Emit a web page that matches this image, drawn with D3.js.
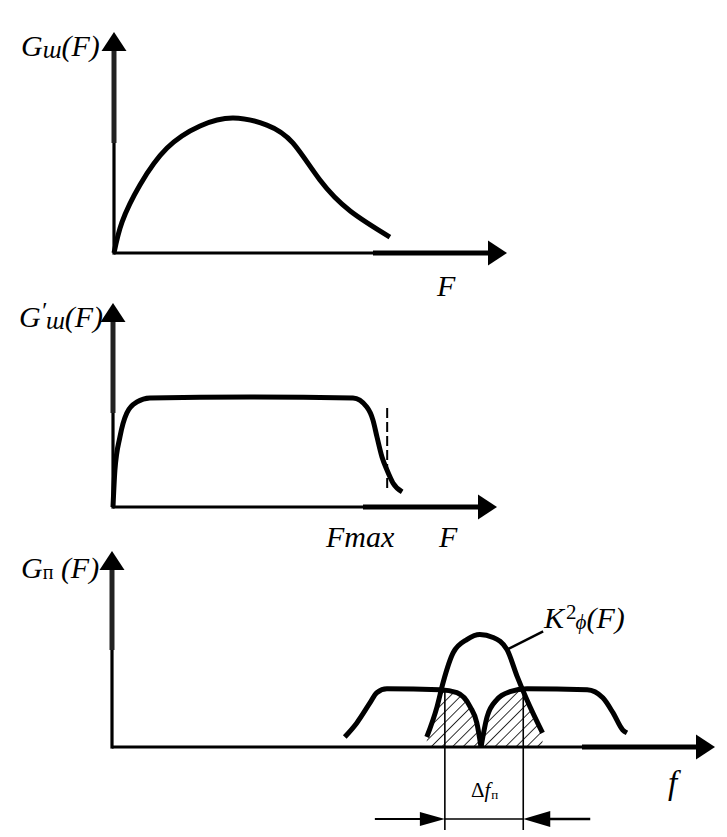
<!DOCTYPE html>
<html>
<head>
<meta charset="utf-8">
<script src="https://cdn.jsdelivr.net/npm/d3@7"></script>
<style>
  html, body { margin: 0; padding: 0; background: #fff; }
  svg { display: block; }
</style>
</head>
<body>
<svg id="chart" width="727" height="837"></svg>
<script>
// ---------------- DATA ----------------
// Panel 1: input spectrum G_ш(F)
const inputF = [0, 2.04, 6.6, 13.5, 21.9, 30.3, 38.9, 45.5, 52.4, 60.1, 70.2];
const inputG = [0, 14.0, 30.8, 47.5, 57.5, 61.1, 57.9, 49.8, 33.0, 19.0, 7.2];

// Panel 2: limited spectrum G'_ш(F)
const limitedF = [0, 0.5, 1.8, 3.6, 6.25, 9.6, 35.7, 62.5, 66.1, 67.7, 68.75, 70.05, 71.35, 72.9, 75.3];
const limitedG = [0, 18.1, 34.3, 46.1, 51.5, 53.4, 53.9, 53.4, 49, 42.6, 34.3, 24.5, 18.1, 11.8, 7.4];
const fmaxValue = 71.4;
const fmaxDashLevels = [8.3, 48.5];

// Panel 3: neighbouring channel spectra G_п(F) and filter K²ϕ(F)
const leftBandF  = [38.6, 40.6, 42.8, 43.9, 45.6, 54.4, 57.2, 59.4, 60.5, 61.2];
const leftBandG  = [5.1, 12.3, 22.6, 27.7, 29.7, 29.2, 27.7, 20.5, 12.3, 0];
const rightBandF = [61.2, 62.2, 63.8, 66.0, 68.8, 78.8, 81.4, 83.1, 84.7, 85.4];
const rightBandG = [0, 15.4, 24.1, 28.2, 29.7, 29.2, 25.1, 17.4, 8.7, 7.2];
const filterF  = [52.2, 53.9, 54.9, 56.6, 58.9, 61.0, 63.2, 65.5, 67.2, 68.8, 71.4];
const filterK2 = [5.1, 20.5, 32.8, 48.2, 54.9, 57.4, 55.9, 49.7, 35.9, 24.1, 7.2];
const passbandEdges = [55.2, 68.2];
const leaderFrom = [65.5, 49.7];
const leaderTo = [71.5, 59];

// ---------------- DRAWING ----------------
const FONT = "'Liberation Serif', 'Times New Roman', 'DejaVu Serif', serif";
const svg = d3.select("#chart");
svg.append("rect").attr("width", 727).attr("height", 837).attr("fill", "#fff");

const zip = (xs, ys) => xs.map((x, i) => [x, ys[i]]);

const panels = [
  { x: d3.scaleLinear().domain([0, 100]).range([114, 507]),
    y: d3.scaleLinear().domain([0, 100]).range([253, 32]),
    thickX: 373, thickY: 143 },
  { x: d3.scaleLinear().domain([0, 100]).range([113, 497]),
    y: d3.scaleLinear().domain([0, 100]).range([507, 303]),
    thickX: 363, thickY: 413 },
  { x: d3.scaleLinear().domain([0, 100]).range([112, 715]),
    y: d3.scaleLinear().domain([0, 100]).range([747, 551]),
    thickX: 582, thickY: 650 }
];

function drawAxes(p) {
  const g = svg.append("g");
  const x0 = p.x(0), y0 = p.y(0), xTip = p.x(100), yTip = p.y(100);
  const headLen = 19, headHalf = 12.5;
  g.append("line").attr("x1", x0).attr("x2", p.thickX).attr("y1", y0).attr("y2", y0)
    .attr("stroke", "#000").attr("stroke-width", 3.2);
  g.append("line").attr("x1", p.thickX).attr("x2", xTip - headLen + 2).attr("y1", y0).attr("y2", y0)
    .attr("stroke", "#000").attr("stroke-width", 5);
  g.append("path")
    .attr("d", `M${xTip},${y0} L${xTip - headLen},${y0 - headHalf} L${xTip - headLen},${y0 + headHalf} Z`)
    .attr("fill", "#000");
  g.append("line").attr("x1", x0).attr("x2", x0).attr("y1", y0 + 1.6).attr("y2", p.thickY)
    .attr("stroke", "#000").attr("stroke-width", 3.2);
  g.append("line").attr("x1", x0).attr("x2", x0).attr("y1", p.thickY).attr("y2", yTip + headLen - 2)
    .attr("stroke", "#222").attr("stroke-width", 5);
  g.append("path")
    .attr("d", `M${x0},${yTip} L${x0 - headHalf},${yTip + headLen} L${x0 + headHalf},${yTip + headLen} Z`)
    .attr("fill", "#000");
}
panels.forEach(drawAxes);

const curve = d3.curveMonotoneX;
function lineFor(p, c) {
  return d3.line().x(d => p.x(d[0])).y(d => p.y(d[1])).curve(c || curve);
}

// Panel 1 curve
const P1 = panels[0];
svg.append("path").attr("d", lineFor(P1, d3.curveNatural)(zip(inputF, inputG)))
  .attr("fill", "none").attr("stroke", "#000").attr("stroke-width", 5)
  .attr("stroke-linejoin", "round");

// Panel 2 curve
const P2 = panels[1];
svg.append("path").attr("d", lineFor(P2)(zip(limitedF, limitedG)))
  .attr("fill", "none").attr("stroke", "#000").attr("stroke-width", 5)
  .attr("stroke-linejoin", "round");
svg.append("line")
  .attr("x1", P2.x(fmaxValue)).attr("x2", P2.x(fmaxValue))
  .attr("y1", P2.y(fmaxDashLevels[1])).attr("y2", P2.y(fmaxDashLevels[0]))
  .attr("stroke", "#000").attr("stroke-width", 2).attr("stroke-dasharray", "10,4");

// Panel 3
const P3 = panels[2];
const defs = svg.append("defs");
const pat = defs.append("pattern").attr("id", "hatch").attr("patternUnits", "userSpaceOnUse")
  .attr("width", 7.5).attr("height", 7.5).attr("patternTransform", "rotate(45)");
pat.append("line").attr("x1", 0).attr("x2", 0).attr("y1", 0).attr("y2", 7.5)
  .attr("stroke", "#000").attr("stroke-width", 1.6);

const areaFor = p => d3.area().x(d => p.x(d[0])).y0(p.y(0)).y1(d => p.y(d[1])).curve(curve);
defs.append("clipPath").attr("id", "clipFilter")
  .append("path").attr("d", areaFor(P3)(zip(filterF, filterK2)));
const cb = defs.append("clipPath").attr("id", "clipBands");
cb.append("path").attr("d", areaFor(P3)(zip(leftBandF, leftBandG)));
cb.append("path").attr("d", areaFor(P3)(zip(rightBandF, rightBandG)));

svg.append("g").attr("clip-path", "url(#clipBands)")
  .append("rect")
  .attr("x", P3.x(45)).attr("y", P3.y(70)).attr("width", P3.x(80) - P3.x(45)).attr("height", P3.y(0) - P3.y(70))
  .attr("fill", "url(#hatch)").attr("clip-path", "url(#clipFilter)");

[zip(leftBandF, leftBandG), zip(rightBandF, rightBandG), zip(filterF, filterK2)].forEach(pts => {
  svg.append("path").attr("d", lineFor(P3)(pts))
    .attr("fill", "none").attr("stroke", "#000").attr("stroke-width", 5)
    .attr("stroke-linejoin", "round");
});

svg.append("line")
  .attr("x1", P3.x(leaderFrom[0])).attr("y1", P3.y(leaderFrom[1]))
  .attr("x2", P3.x(leaderTo[0])).attr("y2", P3.y(leaderTo[1]))
  .attr("stroke", "#000").attr("stroke-width", 2.5);

// passband dimension
const dimTop = P3.y(29.2), dimBottom = 830, dimY = 819;
passbandEdges.forEach(e => {
  svg.append("line").attr("x1", P3.x(e)).attr("x2", P3.x(e)).attr("y1", dimTop).attr("y2", dimBottom)
    .attr("stroke", "#000").attr("stroke-width", 1.6);
});
const eL = P3.x(passbandEdges[0]), eR = P3.x(passbandEdges[1]);
svg.append("line").attr("x1", eL).attr("x2", eR).attr("y1", dimY).attr("y2", dimY)
  .attr("stroke", "#000").attr("stroke-width", 1.3);
svg.append("line").attr("x1", eL - 70).attr("x2", eL - 20).attr("y1", dimY).attr("y2", dimY)
  .attr("stroke", "#000").attr("stroke-width", 2);
svg.append("path").attr("d", `M${eL},${dimY} L${eL - 25},${dimY - 7} L${eL - 25},${dimY + 7} Z`).attr("fill", "#000");
svg.append("line").attr("x1", eR + 20).attr("x2", eR + 67).attr("y1", dimY).attr("y2", dimY)
  .attr("stroke", "#000").attr("stroke-width", 2.5);
svg.append("path").attr("d", `M${eR},${dimY} L${eR + 27},${dimY - 8} L${eR + 27},${dimY + 8} Z`).attr("fill", "#000");

// ---------------- TEXT ----------------
function label(x, y, parts) {
  const t = svg.append("text").attr("x", x).attr("y", y)
    .attr("font-family", FONT).attr("fill", "#000");
  parts.forEach(pt => {
    const s = t.append("tspan").text(pt.t)
      .attr("font-family", FONT)
      .attr("font-size", pt.size || 30)
      .attr("font-style", pt.italic === false ? "normal" : "italic");
    if (pt.dy) s.attr("dy", pt.dy);
    if (pt.dx) s.attr("dx", pt.dx);
  });
  return t;
}
label(21, 56, [{t: "G"}, {t: "ш", size: 25, dy: 2}, {t: "(F)", dy: -2}]);
label(19, 327, [{t: "G"}, {t: "′", size: 24, dy: -9}, {t: "ш", size: 25, dy: 11}, {t: "(F)", dy: -2}]);
label(21, 578, [{t: "G"}, {t: "п", size: 20, italic: false, dy: 1}, {t: " (F)", dy: -1}]);

label(437, 296, [{t: "F"}]);
label(326, 547, [{t: "Fmax"}]);
label(439, 547, [{t: "F"}]);
label(544, 628, [{t: "K"}, {t: "2", size: 21, italic: false, dy: -9, dx: 2}, {t: "ϕ", size: 21, dy: 10, dx: -1}, {t: "(F)", dy: -1}]);
label(471, 797, [{t: "Δ", size: 21, italic: false}, {t: "f", size: 21}, {t: "п", size: 13, italic: false, dy: 2, dx: 1}]);
label(668, 794, [{t: "f", size: 33}]);
</script>
</body>
</html>
